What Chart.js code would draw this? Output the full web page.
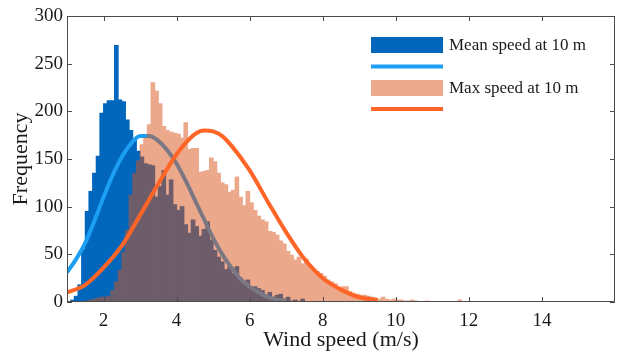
<!DOCTYPE html>
<html>
<head>
<meta charset="utf-8">
<script src="https://cdn.jsdelivr.net/npm/chart.js@4.4.1/dist/chart.umd.min.js"></script>
<style>
  html, body { margin: 0; padding: 0; background: #fff; }
  #wrap { width: 619px; height: 354px; }
</style>
</head>
<body>
<div id="wrap"><canvas id="windChart" width="619" height="354"></canvas></div>
<script>
// Histogram bins: 0.1 m/s wide, first bin starts at 1.0 m/s
const binStart = 1.0;
const binWidth = 0.1;

// Counts per bin, mean wind speed at 10 m
const meanCounts = [
  0, 2, 6, 18, 55, 95, 116, 135, 153, 198,
  208, 211, 211, 269, 212, 210, 191, 180, 170, 158,
  152, 145, 144, 143, 110, 121, 138, 112, 128, 102,
  96, 100, 81, 72, 86, 79, 69, 76, 84, 65,
  54, 47, 42, 34, 37, 30, 37, 25, 21, 23,
  13, 16, 14, 12, 7, 10, 5, 7, 8, 3,
  5, 1, 2, 0, 3, 0
];

// Counts per bin, max wind speed at 10 m
const maxCounts = [
  0, 0, 0, 0, 0, 1, 2, 3, 4, 5,
  5, 6, 12, 21, 33, 52, 75, 112, 135, 148,
  165, 172, 186, 230, 221, 208, 184, 180, 178, 177,
  176, 172, 188, 160, 161, 161, 136, 137, 138, 151,
  147, 135, 125, 123, 115, 117, 131, 110, 101, 116,
  104, 96, 90, 86, 84, 74, 73, 70, 64, 61,
  53, 49, 44, 47, 40, 45, 39, 35, 32, 30,
  27, 23, 21, 19, 13, 16, 16, 11, 9, 8,
  7, 7, 6, 5, 4, 3, 5, 3, 2, 3,
  2, 2, 1, 1, 2, 1, 0, 0, 1, 0,
  0, 0, 0, 0, 0, 0, 0, 2, 0
];

// Fitted distribution curves (wind speed, frequency)
const meanFitX = [1.0, 1.25, 1.5, 1.75, 2.0, 2.25, 2.5, 2.75, 3.0, 3.25, 3.5, 3.75, 4.0, 4.25, 4.5, 4.75, 5.0, 5.25, 5.5, 5.75, 6.0, 6.25, 6.5, 6.75, 7.0];
const meanFitY = [31, 45, 62, 85, 110, 133, 152, 166, 174, 174, 169, 159, 145, 127, 107, 87, 67, 50, 36, 24, 16, 10, 5, 2.5, 1];

const maxFitX = [1.0, 1.5, 2.0, 2.5, 3.0, 3.5, 4.0, 4.5, 4.75, 5.0, 5.25, 5.5, 6.0, 6.5, 7.0, 7.5, 8.0, 8.5, 9.0, 9.5];
const maxFitY = [10, 18, 36, 59, 91, 124, 155, 176, 180, 179, 174, 164, 138, 105, 73, 45, 25, 13, 5, 2];

// Axis ticks
const xTicks = [2, 4, 6, 8, 10, 12, 14];
const yTicks = [0, 50, 100, 150, 200, 250, 300];

const serif = "'Liberation Serif', 'Times New Roman', serif";
const textColor = '#1a1a1a';
const axisColor = '#4a4a4a';

function binPoints(counts) {
  return counts.map((c, i) => ({
    x: Math.round((binStart + (i + 0.5) * binWidth) * 100) / 100,
    y: c
  }));
}

function curvePoints(xs, ys) {
  return xs.map((x, i) => ({ x: x, y: ys[i] }));
}

// Draws a dataset's bars on their own layer first, then lays the whole
// layer down with one alpha, so neighbouring bars show no seams
const barLayer = {
  id: 'barLayer',
  beforeDatasetDraw(chart, args) {
    const alpha = chart.data.datasets[args.index].layerAlpha;
    if (alpha === undefined) return;
    const { ctx, chartArea: a } = chart;
    const dpr = chart.currentDevicePixelRatio;
    const off = document.createElement('canvas');
    off.width = chart.canvas.width;
    off.height = chart.canvas.height;
    const octx = off.getContext('2d');
    octx.scale(dpr, dpr);
    args.meta.data.forEach(el => el.draw(octx));
    ctx.save();
    ctx.beginPath();
    ctx.rect(a.left, a.top, a.right - a.left, a.bottom - a.top);
    ctx.clip();
    ctx.globalAlpha = alpha;
    ctx.drawImage(off, 0, 0, chart.width, chart.height);
    ctx.restore();
    return false;
  }
};

// Box around the plot area with inward tick marks on all four sides
const axesBox = {
  id: 'axesBox',
  afterDatasetsDraw(chart) {
    const { ctx, chartArea: a, scales } = chart;
    ctx.save();
    ctx.strokeStyle = axisColor;
    ctx.lineWidth = 1;
    ctx.beginPath();
    ctx.rect(a.left + 0.5, a.top + 0.5, a.right - a.left - 1, a.bottom - a.top - 1);
    const len = 5;
    xTicks.forEach(v => {
      const px = Math.round(scales.x.getPixelForValue(v)) + 0.5;
      ctx.moveTo(px, a.bottom); ctx.lineTo(px, a.bottom - len);
      ctx.moveTo(px, a.top); ctx.lineTo(px, a.top + len);
    });
    yTicks.forEach(v => {
      const py = Math.round(scales.y.getPixelForValue(v)) + 0.5;
      ctx.moveTo(a.left, py); ctx.lineTo(a.left + len, py);
      ctx.moveTo(a.right, py); ctx.lineTo(a.right - len, py);
    });
    ctx.stroke();
    ctx.restore();
  }
};

// Legend inside the top right corner: patch / line rows
const insideLegend = {
  id: 'insideLegend',
  afterDraw(chart) {
    const ctx = chart.ctx;
    const ds = chart.data.datasets;
    const x0 = 371, w = 72;
    ctx.save();
    ctx.font = '17px ' + serif;
    ctx.textBaseline = 'middle';

    ctx.fillStyle = ds[0].backgroundColor;
    ctx.fillRect(x0, 37, w, 16);
    ctx.fillStyle = textColor;
    ctx.fillText(ds[0].label, x0 + w + 6, 46);

    ctx.fillStyle = ds[1].borderColor;
    ctx.fillRect(x0, 64.5, w, 4);

    ctx.globalAlpha = ds[2].layerAlpha;
    ctx.fillStyle = ds[2].backgroundColor;
    ctx.fillRect(x0, 80, w, 16);
    ctx.globalAlpha = 1;
    ctx.fillStyle = textColor;
    ctx.fillText(ds[2].label, x0 + w + 6, 89);

    ctx.fillStyle = ds[3].borderColor;
    ctx.fillRect(x0, 107, w, 4);
    ctx.restore();
  }
};

new Chart(document.getElementById('windChart'), {
  type: 'bar',
  data: {
    datasets: [
      {
        label: 'Mean speed at 10 m',
        data: binPoints(meanCounts),
        backgroundColor: 'rgb(0, 103, 189)',
        borderWidth: 0,
        grouped: false,
        barPercentage: 1,
        categoryPercentage: 1,
        inflateAmount: 0.5,
        order: 4
      },
      {
        type: 'line',
        label: 'Mean fit',
        data: curvePoints(meanFitX, meanFitY),
        borderColor: '#1c9ff2',
        borderWidth: 4,
        pointRadius: 0,
        cubicInterpolationMode: 'monotone',
        fill: false,
        order: 3
      },
      {
        label: 'Max speed at 10 m',
        data: binPoints(maxCounts),
        backgroundColor: 'rgb(217, 83, 25)',
        layerAlpha: 0.5,
        borderWidth: 0,
        grouped: false,
        barPercentage: 1,
        categoryPercentage: 1,
        inflateAmount: 0.5,
        order: 2
      },
      {
        type: 'line',
        label: 'Max fit',
        data: curvePoints(maxFitX, maxFitY),
        borderColor: '#ff6526',
        borderWidth: 4,
        pointRadius: 0,
        cubicInterpolationMode: 'monotone',
        fill: false,
        order: 1
      }
    ]
  },
  options: {
    responsive: false,
    animation: false,
    layout: { padding: { top: 16, right: 4, left: 0, bottom: 0 } },
    plugins: {
      legend: { display: false },
      tooltip: { enabled: false }
    },
    scales: {
      x: {
        type: 'linear',
        min: 1,
        max: 16,
        offset: false,
        grid: { display: false, drawTicks: false, offset: false },
        border: { display: false },
        afterBuildTicks: s => { s.ticks = xTicks.map(v => ({ value: v })); },
        afterFit: s => { s.height = 52; },
        ticks: {
          autoSkip: false,
          maxRotation: 0,
          padding: 8,
          color: textColor,
          font: { family: serif, size: 19 }
        },
        title: {
          display: true,
          text: 'Wind speed (m/s)',
          color: textColor,
          font: { family: serif, size: 22 },
          padding: { top: 0, bottom: 1 }
        }
      },
      y: {
        min: 0,
        max: 300,
        grid: { display: false, drawTicks: false },
        border: { display: false },
        afterBuildTicks: s => { s.ticks = yTicks.map(v => ({ value: v })); },
        afterFit: s => { s.width = 67; },
        ticks: {
          padding: 4,
          color: textColor,
          font: { family: serif, size: 19 }
        },
        title: {
          display: true,
          text: 'Frequency',
          color: textColor,
          font: { family: serif, size: 22 },
          padding: { top: 8, bottom: 0 }
        }
      }
    }
  },
  plugins: [barLayer, axesBox, insideLegend]
});
</script>
</body>
</html>
